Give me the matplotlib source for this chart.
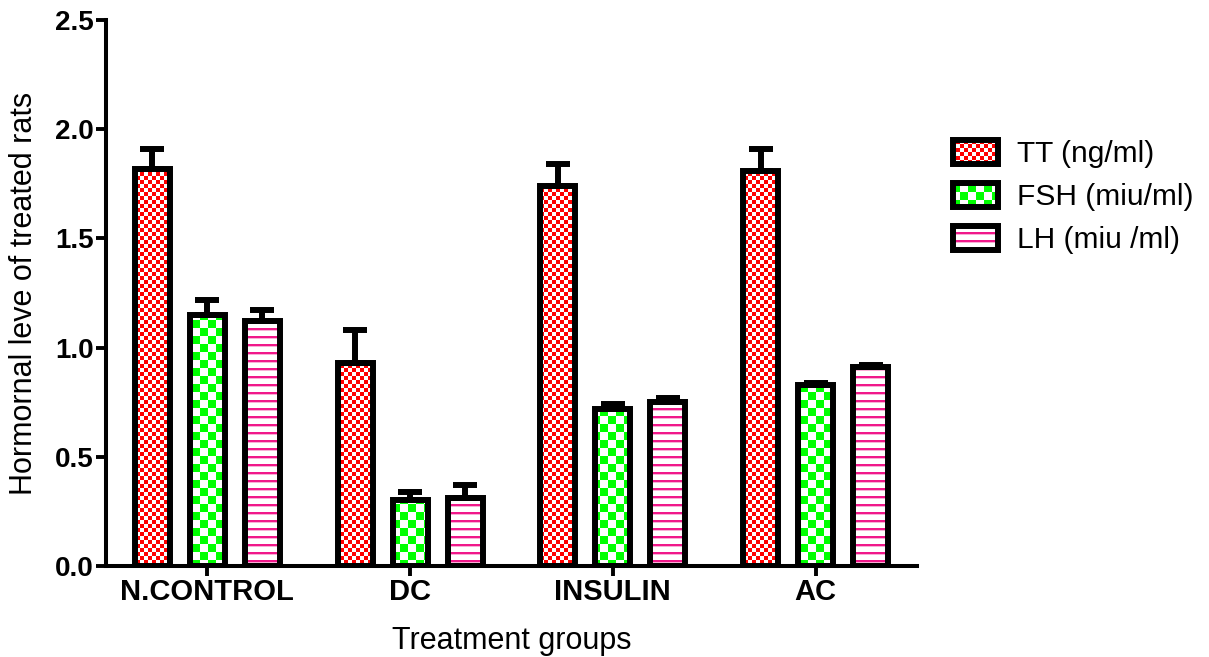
import numpy as np
import matplotlib
matplotlib.use('Agg')
import matplotlib.pyplot as plt
from matplotlib.patches import Patch

plt.rcParams['font.family'] = ['Liberation Sans', 'DejaVu Sans']

groups = ['N.CONTROL', 'DC', 'INSULIN', 'AC']
series = ['TT (ng/ml)', 'FSH (miu/ml)', 'LH (miu /ml)']
tt = [1.82, 0.93, 1.74, 1.81]
tt_err = [0.09, 0.15, 0.10, 0.10]
fsh = [1.15, 0.30, 0.72, 0.83]
fsh_err = [0.07, 0.04, 0.02, 0.01]
lh = [1.12, 0.31, 0.75, 0.91]
lh_err = [0.05, 0.06, 0.02, 0.01]

W, H = 1209, 657
fig = plt.figure(figsize=(W / 100, H / 100), dpi=100)
ax = fig.add_axes([106 / W, 91 / H, (917 - 106) / W, (566 - 20) / H])
ax.patch.set_alpha(0)

# textures, one pixel of the array per pixel of the figure
yy, xx = np.mgrid[0:H, 0:W]


def checks(size, color):
    rgb = np.array(matplotlib.colors.to_rgb(color))
    on = ((yy // size + xx // size) % 2) == 0
    img = np.ones((H, W, 3))
    img[on] = rgb
    return img


def stripes(color):
    rgb = np.array(matplotlib.colors.to_rgb(color))
    light = 1 - 0.35 * (1 - rgb)
    img = np.ones((H, W, 3))
    m = yy % 8
    img[m < 2] = rgb
    img[m == 2] = light
    return img


textures = [checks(4, '#ff0000'), checks(8, '#00ff00'), stripes('#f0188a')]

x = np.arange(len(groups))
off = 0.271
width = 0.173
lw = 4.3
vals = [tt, fsh, lh]
errs = [tt_err, fsh_err, lh_err]

bar_sets = []
for i in range(3):
    pos = x + (i - 1) * off
    bars = ax.bar(pos, vals[i], width, facecolor='none', edgecolor='black',
                  linewidth=lw, zorder=3)
    bar_sets.append(bars)
    ax.errorbar(pos, vals[i], yerr=[np.zeros(len(groups)), errs[i]], fmt='none',
                ecolor='black', elinewidth=lw, capsize=8.5, capthick=lw, zorder=2)

ax.set_xlim(-0.5, 3.5)
ax.set_ylim(0, 2.5)
ax.set_yticks([0, 0.5, 1.0, 1.5, 2.0, 2.5])
ax.set_yticklabels(['0.0', '0.5', '1.0', '1.5', '2.0', '2.5'], fontsize=20, fontweight='bold')
ax.set_xticks(x)
ax.set_xticklabels(groups, fontsize=21, fontweight='bold')
ax.tick_params(axis='y', length=7, width=2.8, pad=2)
ax.tick_params(axis='x', length=7, width=2.8, pad=2)
for s in ['top', 'right']:
    ax.spines[s].set_visible(False)
for s in ['left', 'bottom']:
    ax.spines[s].set_linewidth(2.9)

ax.set_ylabel('Hormornal leve of treated rats', fontsize=22)
ax.set_xlabel('Treatment groups', fontsize=22)
ax.yaxis.set_label_coords(-0.083, 0.5)
ax.xaxis.set_label_coords(0.5, -0.11)

handles = [Patch(facecolor='none', edgecolor='black', linewidth=lw, label=s) for s in series]
leg = ax.legend(handles=handles, loc='upper left', bbox_to_anchor=(953 / W, 1 - 140 / H),
                bbox_transform=fig.transFigure, frameon=False, fontsize=21.5,
                handlelength=1.5, handleheight=0.84, handletextpad=0.65,
                labelspacing=0.5, borderpad=0, borderaxespad=0)

fig.canvas.draw()

for i in range(3):
    for b in bar_sets[i]:
        im = fig.figimage(textures[i], origin='upper', zorder=-1)
        im.set_clip_path(b)
    im = fig.figimage(textures[i], origin='upper', zorder=-1)
    im.set_clip_path(leg.get_patches()[i])

fig.savefig('out.png', dpi=100)
